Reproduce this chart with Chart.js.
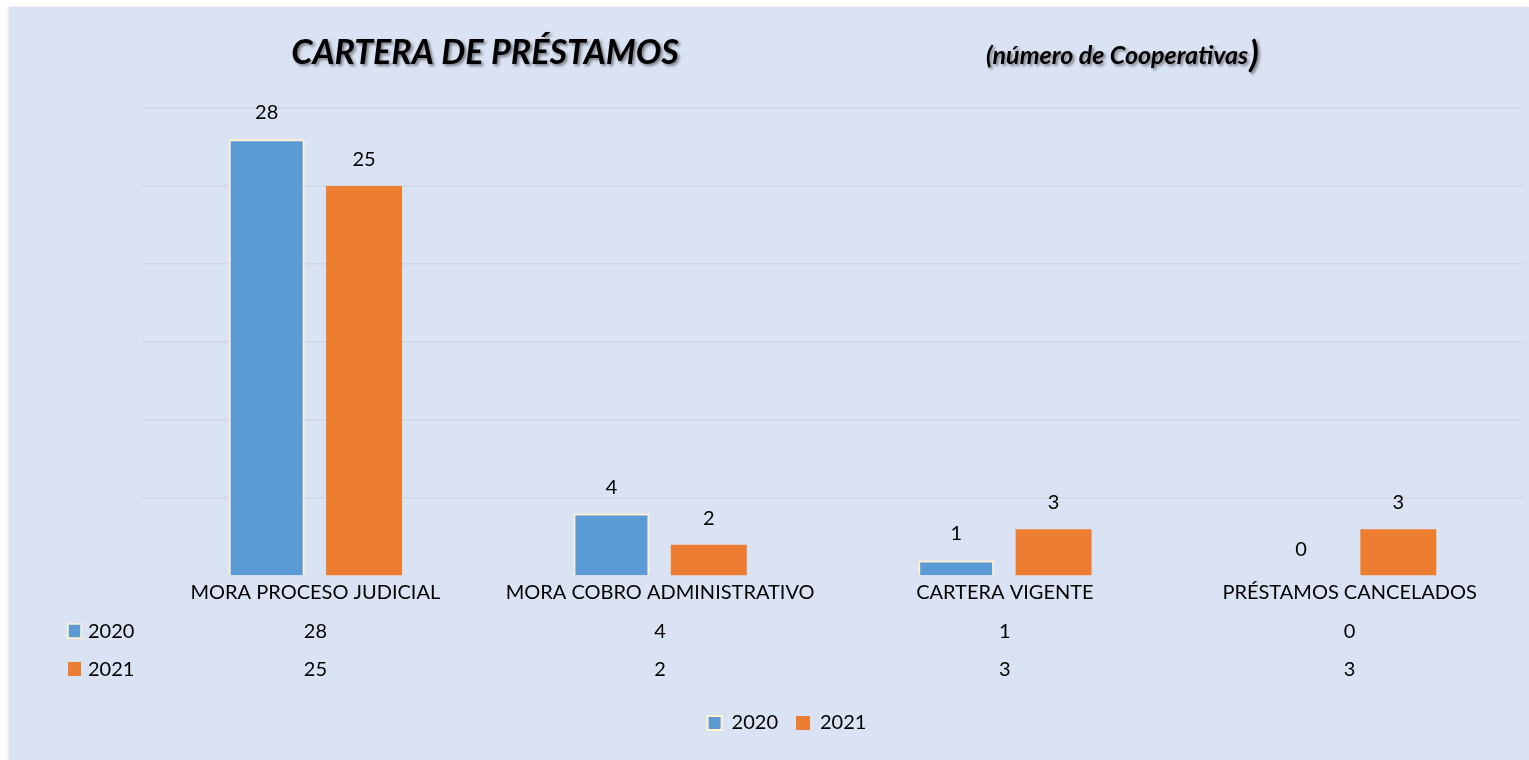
<!DOCTYPE html>
<html>
<head>
<meta charset="utf-8">
<script src="https://cdn.jsdelivr.net/npm/chart.js@4"></script>
<style>
  html, body { margin: 0; padding: 0; background: #ffffff; }
  #wrap {
    position: absolute; left: 9px; top: 7px; width: 1520px; height: 753px;
    background: #dae3f3; box-shadow: -1px 0 3px rgba(0,0,0,0.12);
  }
</style>
</head>
<body>
<div id="wrap"><canvas id="prestamosChart"></canvas></div>
<script>
const categorias = ['MORA PROCESO JUDICIAL', 'MORA COBRO ADMINISTRATIVO', 'CARTERA VIGENTE', 'PRÉSTAMOS CANCELADOS'];
const series = ['2020', '2021'];
const valores2020 = [28, 4, 1, 0];
const valores2021 = [25, 2, 3, 3];

const FONT = 'Lato';

// titulo, etiquetas de las barras y tabla de datos
const extras = {
  id: 'extras',
  afterDraw(chart) {
    const ctx = chart.ctx;
    const x = chart.scales.x;
    const area = chart.chartArea;
    ctx.save();

    // titulo con sombra
    ctx.shadowColor = 'rgba(0,0,0,0.45)';
    ctx.shadowOffsetX = 2;
    ctx.shadowOffsetY = 2;
    ctx.shadowBlur = 3;
    ctx.fillStyle = '#000';
    ctx.textBaseline = 'alphabetic';
    ctx.textAlign = 'center';
    ctx.font = 'italic bold 34px ' + FONT;
    ctx.fillText('CARTERA DE PRÉSTAMOS', 476, 57);
    ctx.textAlign = 'left';
    ctx.font = 'italic bold 25px ' + FONT;
    const sub = '(número de Cooperativas';
    ctx.fillText(sub, 977, 57);
    const w = ctx.measureText(sub).width;
    ctx.font = 'italic bold 36px ' + FONT;
    ctx.fillText(')', 977 + w + 1, 60);
    ctx.shadowColor = 'transparent';

    // valores encima de las barras
    ctx.font = '20px ' + FONT;
    ctx.textAlign = 'center';
    chart.data.datasets.forEach((ds, di) => {
      const meta = chart.getDatasetMeta(di);
      meta.data.forEach((bar, i) => {
        ctx.fillText(String(ds.data[i]), bar.x, bar.y - 20);
      });
    });

    // tabla de datos
    const filas = [area.bottom + 62, area.bottom + 100];
    chart.data.datasets.forEach((ds, di) => {
      const y = filas[di];
      ctx.fillStyle = ds.backgroundColor;
      ctx.fillRect(59, y - 14, 13, 14);
      if (ds.borderWidth) {
        ctx.strokeStyle = ds.borderColor;
        ctx.lineWidth = 1.5;
        ctx.strokeRect(59, y - 14, 13, 14);
      }
      ctx.fillStyle = '#000';
      ctx.textAlign = 'left';
      ctx.fillText(ds.label, 79, y);
      ctx.textAlign = 'center';
      ds.data.forEach((v, i) => {
        ctx.fillText(String(v), x.getPixelForValue(i), y);
      });
    });
    ctx.restore();
  }
};

new Chart(document.getElementById('prestamosChart'), {
  type: 'bar',
  data: {
    labels: categorias,
    datasets: [
      {
        label: series[0],
        data: valores2020,
        backgroundColor: '#5b9bd5',
        borderColor: '#fff2cc',
        borderWidth: 2,
        categoryPercentage: 0.565,
        barPercentage: 0.78
      },
      {
        label: series[1],
        data: valores2021,
        backgroundColor: '#ed7d31',
        borderColor: '#ed7d31',
        borderWidth: 0,
        categoryPercentage: 0.565,
        barPercentage: 0.78
      }
    ]
  },
  options: {
    responsive: true,
    maintainAspectRatio: false,
    animation: false,
    layout: { padding: { top: 101, left: 43, right: 7, bottom: 17 } },
    plugins: {
      title: { display: false },
      tooltip: { enabled: false },
      legend: {
        position: 'bottom',
        labels: {
          boxWidth: 14,
          boxHeight: 14,
          padding: 18,
          color: '#000',
          font: { family: FONT, size: 20 }
        }
      }
    },
    scales: {
      x: {
        grid: { display: false, drawTicks: false },
        border: { display: false },
        ticks: { color: '#000', padding: 5, font: { family: FONT, size: 20 }, maxRotation: 0 },
        afterFit(scale) { scale.height = 119; }
      },
      y: {
        min: 0,
        max: 30,
        ticks: { display: false, stepSize: 5 },
        border: { display: false },
        grid: {
          drawTicks: false,
          lineWidth: 1.5,
          color: (c) => (c.tick && c.tick.value === 0 ? 'rgba(0,0,0,0)' : '#d4d7dc')
        },
        afterFit(scale) { scale.width = 91; }
      }
    }
  },
  plugins: [extras]
});
</script>
</body>
</html>
